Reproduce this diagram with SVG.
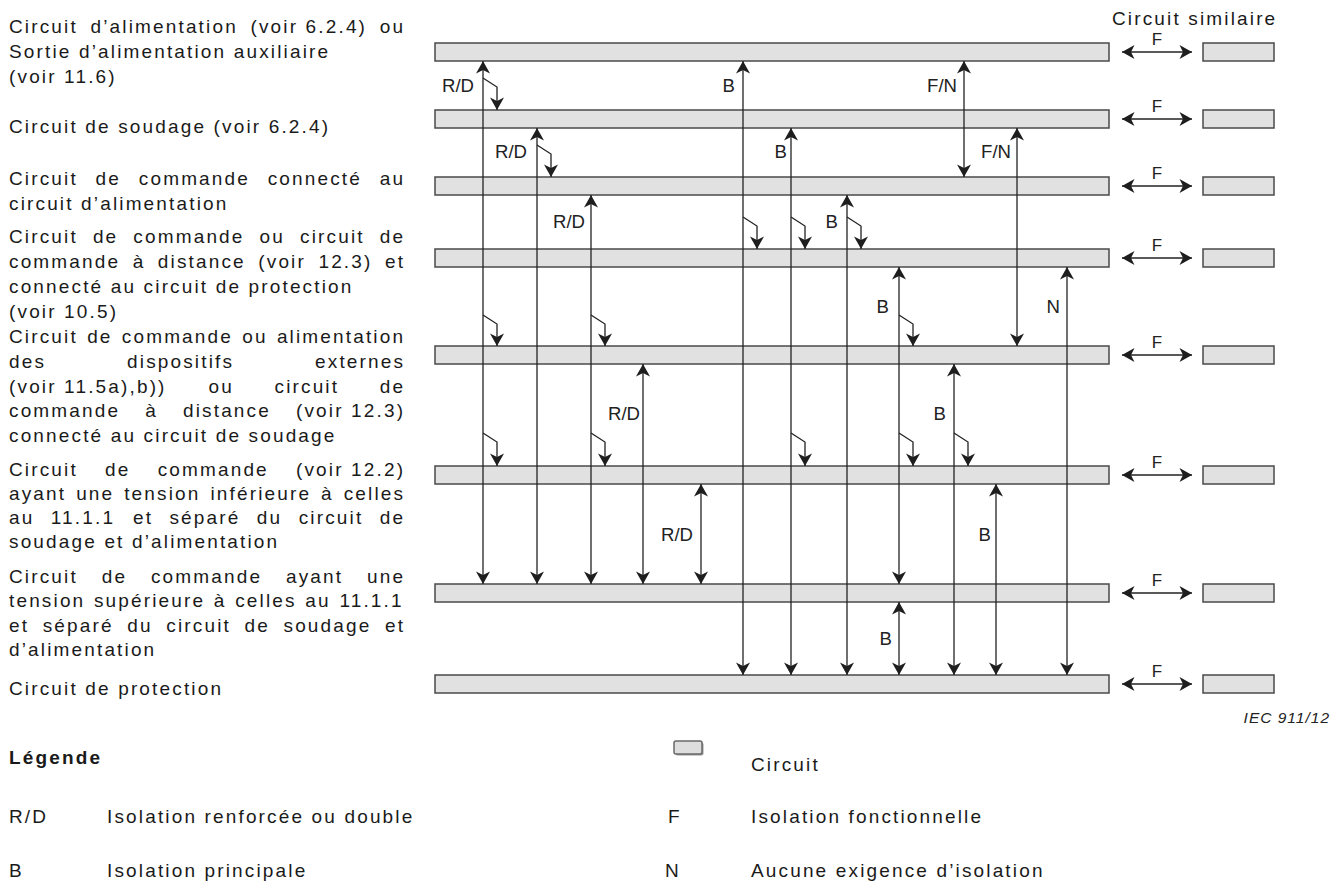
<svg xmlns="http://www.w3.org/2000/svg" width="1338" height="882" viewBox="0 0 1338 882">
<defs>
<style>
.bar{fill:#e1e1e1;stroke:#4a4a4a;stroke-width:1.5}
.ln{stroke:#222;stroke-width:1.3;fill:none}
.dbl{marker-start:url(#ah);marker-end:url(#ah)}
.one{marker-end:url(#ah)}
.t{font-family:"Liberation Sans",Arial,sans-serif;font-size:19px;letter-spacing:2.15px;fill:#1a1a1a}
.lb{font-family:"Liberation Sans",Arial,sans-serif;font-size:18.6px;fill:#222;text-anchor:end}
.f{font-family:"Liberation Sans",Arial,sans-serif;font-size:17px;fill:#222;text-anchor:middle}
.b{font-weight:bold}
.iec{font-family:"Liberation Sans",Arial,sans-serif;font-size:15.5px;font-style:italic;letter-spacing:1px;fill:#222;text-anchor:end}
</style>
<marker id="ah" viewBox="-14 -8 16 16" refX="0" refY="0" markerWidth="16" markerHeight="16" markerUnits="userSpaceOnUse" orient="auto-start-reverse">
<path d="M0,0 L-12.5,-7 L-9,0 L-12.5,7 Z" fill="#1e1e1e"/>
</marker>
</defs>
<rect width="1338" height="882" fill="#fff"/>

<!-- left labels -->
<g id="label-alimentation" class="t">
<text class="t" y="33"><tspan x="9">Circuit</tspan><tspan x="90.52">d’alimentation</tspan><tspan x="250.47">(voir 6.2.4)</tspan><tspan x="379.71">ou</tspan></text>
<text class="t" x="9" y="58">Sortie d’alimentation auxiliaire</text>
<text class="t" x="9" y="83">(voir 11.6)</text>
</g>
<g id="label-soudage">
<text class="t" x="9" y="133">Circuit de soudage (voir 6.2.4)</text>
</g>
<g id="label-cmd-alim">
<text class="t" y="185"><tspan x="9">Circuit</tspan><tspan x="95.62">de</tspan><tspan x="138.79">commande</tspan><tspan x="267.70">connecté</tspan><tspan x="379.74">au</tspan></text>
<text class="t" x="9" y="210">circuit d’alimentation</text>
</g>
<g id="label-cmd-protection">
<text class="t" y="243"><tspan x="9">Circuit</tspan><tspan x="92.91">de</tspan><tspan x="133.37">commande</tspan><tspan x="259.57">ou</tspan><tspan x="300.03">circuit</tspan><tspan x="379.72">de</tspan></text>
<text class="t" y="268"><tspan x="9">commande</tspan><tspan x="132.65">à</tspan><tspan x="157.84">distance</tspan><tspan x="258.28">(voir</tspan><tspan x="318.45">12.3)</tspan><tspan x="384.98">et</tspan></text>
<text class="t" x="9" y="293">connecté au circuit de protection</text>
<text class="t" x="9" y="318">(voir 10.5)</text>
</g>
<g id="label-cmd-soudage">
<text class="t" y="343"><tspan x="9">Circuit</tspan><tspan x="87.13">de</tspan><tspan x="121.81">commande</tspan><tspan x="242.23">ou</tspan><tspan x="276.91">alimentation</tspan></text>
<text class="t" y="368"><tspan x="9">des</tspan><tspan x="127.05">dispositifs</tspan><tspan x="315.08">externes</tspan></text>
<text class="t" y="393"><tspan x="9">(voir 11.5a),b))</tspan><tspan x="208.53">ou</tspan><tspan x="274.51">circuit</tspan><tspan x="379.72">de</tspan></text>
<text class="t" y="417"><tspan x="9">commande</tspan><tspan x="145.22">à</tspan><tspan x="182.98">distance</tspan><tspan x="295.99">(voir 12.3)</tspan></text>
<text class="t" x="9" y="442">connecté au circuit de soudage</text>
</g>
<g id="label-cmd-inf">
<text class="t" y="476"><tspan x="9">Circuit</tspan><tspan x="105.05">de</tspan><tspan x="157.65">commande</tspan><tspan x="295.99">(voir 12.2)</tspan></text>
<text class="t" y="500"><tspan x="9">ayant</tspan><tspan x="76.14">une</tspan><tspan x="124.2">tension</tspan><tspan x="210.43">inférieure</tspan><tspan x="321.04">à</tspan><tspan x="343.67">celles</tspan></text>
<text class="t" y="524"><tspan x="9">au</tspan><tspan x="50.82">11.1.1</tspan><tspan x="132.93">et</tspan><tspan x="169.47">séparé</tspan><tspan x="256.84">du</tspan><tspan x="298.66">circuit</tspan><tspan x="379.71">de</tspan></text>
<text class="t" x="9" y="548">soudage et d’alimentation</text>
</g>
<g id="label-cmd-sup">
<text class="t" y="583"><tspan x="9">Circuit</tspan><tspan x="101.71">de</tspan><tspan x="150.97">commande</tspan><tspan x="285.97">ayant</tspan><tspan x="367.02">une</tspan></text>
<text class="t" y="607"><tspan x="9">tension</tspan><tspan x="93.96">supérieure</tspan><tspan x="213.87">à</tspan><tspan x="235.23">celles</tspan><tspan x="305.34">au</tspan><tspan x="339.42">11.1.1</tspan></text>
<text class="t" y="632"><tspan x="9">et</tspan><tspan x="42.72">séparé</tspan><tspan x="127.27">du</tspan><tspan x="166.27">circuit</tspan><tspan x="244.5">de</tspan><tspan x="283.5">soudage</tspan><tspan x="385">et</tspan></text>
<text class="t" x="9" y="656">d’alimentation</text>
</g>
<g id="label-protection">
<text class="t" x="9" y="695">Circuit de protection</text>
</g>

<text class="t" x="1112" y="25">Circuit similaire</text>

<!-- circuits -->
<g id="c1"><rect class="bar" x="435" y="43" width="674" height="18"/><rect class="bar" x="1203" y="43" width="71" height="18"/></g>
<g id="c2"><rect class="bar" x="435" y="110" width="674" height="18"/><rect class="bar" x="1203" y="110" width="71" height="18"/></g>
<g id="c3"><rect class="bar" x="435" y="177" width="674" height="18"/><rect class="bar" x="1203" y="177" width="71" height="18"/></g>
<g id="c4"><rect class="bar" x="435" y="249" width="674" height="18"/><rect class="bar" x="1203" y="249" width="71" height="18"/></g>
<g id="c5"><rect class="bar" x="435" y="346" width="674" height="18"/><rect class="bar" x="1203" y="346" width="71" height="18"/></g>
<g id="c6"><rect class="bar" x="435" y="466" width="674" height="18"/><rect class="bar" x="1203" y="466" width="71" height="18"/></g>
<g id="c7"><rect class="bar" x="435" y="584" width="674" height="18"/><rect class="bar" x="1203" y="584" width="71" height="18"/></g>
<g id="c8"><rect class="bar" x="435" y="675" width="674" height="18"/><rect class="bar" x="1203" y="675" width="71" height="18"/></g>

<!-- connectors -->
<g id="connectors">
<g class="ln dbl">
<line x1="483" y1="61" x2="483" y2="584"/>
<line x1="537" y1="128" x2="537" y2="584"/>
<line x1="591" y1="195" x2="591" y2="584"/>
<line x1="643" y1="364" x2="643" y2="584"/>
<line x1="701" y1="484" x2="701" y2="584"/>
<line x1="743" y1="61" x2="743" y2="675"/>
<line x1="791" y1="128" x2="791" y2="675"/>
<line x1="847" y1="195" x2="847" y2="675"/>
<line x1="899" y1="267" x2="899" y2="584"/>
<line x1="899" y1="602" x2="899" y2="675"/>
<line x1="954" y1="364" x2="954" y2="675"/>
<line x1="996" y1="484" x2="996" y2="675"/>
<line x1="964" y1="61" x2="964" y2="177"/>
<line x1="1017" y1="128" x2="1017" y2="346"/>
<line x1="1067" y1="267" x2="1067" y2="675"/>
<line x1="1122" y1="52" x2="1192" y2="52"/>
<line x1="1122" y1="119" x2="1192" y2="119"/>
<line x1="1122" y1="186" x2="1192" y2="186"/>
<line x1="1122" y1="258" x2="1192" y2="258"/>
<line x1="1122" y1="355" x2="1192" y2="355"/>
<line x1="1122" y1="475" x2="1192" y2="475"/>
<line x1="1122" y1="593" x2="1192" y2="593"/>
<line x1="1122" y1="684" x2="1192" y2="684"/>
</g>
<g class="ln one">
<path d="M483,78 L497,87 L497,110"/>
<path d="M537,145 L551,154 L551,177"/>
<path d="M743,217 L757,226 L757,249"/>
<path d="M791,217 L805,226 L805,249"/>
<path d="M847,217 L861,226 L861,249"/>
<path d="M483,315 L497,324 L497,346"/>
<path d="M591,315 L605,324 L605,346"/>
<path d="M899,315 L913,324 L913,346"/>
<path d="M483,433 L497,442 L497,466"/>
<path d="M591,433 L605,442 L605,466"/>
<path d="M791,433 L805,442 L805,466"/>
<path d="M899,433 L913,442 L913,466"/>
<path d="M954,433 L968,442 L968,466"/>
</g>
<g>
<text class="lb" x="474" y="92">R/D</text>
<text class="lb" x="735" y="92">B</text>
<text class="lb" x="957" y="92">F/N</text>
<text class="lb" x="527" y="158">R/D</text>
<text class="lb" x="787" y="158">B</text>
<text class="lb" x="1011" y="158">F/N</text>
<text class="lb" x="585" y="228">R/D</text>
<text class="lb" x="838" y="228">B</text>
<text class="lb" x="889" y="313">B</text>
<text class="lb" x="1060" y="313">N</text>
<text class="lb" x="640" y="420">R/D</text>
<text class="lb" x="946" y="420">B</text>
<text class="lb" x="693" y="541">R/D</text>
<text class="lb" x="991" y="541">B</text>
<text class="lb" x="892" y="645">B</text>
<text class="f" x="1157" y="45">F</text>
<text class="f" x="1157" y="112">F</text>
<text class="f" x="1157" y="179">F</text>
<text class="f" x="1157" y="251">F</text>
<text class="f" x="1157" y="348">F</text>
<text class="f" x="1157" y="468">F</text>
<text class="f" x="1157" y="586">F</text>
<text class="f" x="1157" y="677">F</text>
</g>
</g>

<text class="iec" x="1330" y="723">IEC  911/12</text>

<!-- legend -->
<g id="legend">
<text class="t b" x="9" y="764">Légende</text>
<rect x="675.5" y="742.5" width="28" height="13" rx="2" fill="#9a9a9a"/>
<rect x="674" y="741" width="28" height="13" rx="2" fill="#dedede" stroke="#6a6a6a" stroke-width="1.5"/>
<text class="t" x="751" y="771">Circuit</text>
<text class="t" x="9" y="823">R/D</text>
<text class="t" x="107" y="823">Isolation renforcée ou double</text>
<text class="t" x="668" y="823">F</text>
<text class="t" x="751" y="823">Isolation fonctionnelle</text>
<text class="t" x="9" y="877">B</text>
<text class="t" x="107" y="877">Isolation principale</text>
<text class="t" x="665" y="877">N</text>
<text class="t" x="751" y="877">Aucune exigence d’isolation</text>
</g>
</svg>
